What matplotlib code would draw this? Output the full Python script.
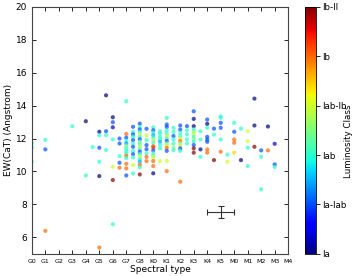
import numpy as np
import matplotlib
matplotlib.use("Agg")
import matplotlib.pyplot as plt
from matplotlib import cm, colors

# spectral type labels along x (index = position)
spec_types = ["G0", "G1", "G2", "G3", "G4", "G5", "G6", "G7", "G8",
              "K0", "K1", "K2", "K3", "K4", "K5",
              "M0", "M1", "M2", "M3", "M4"]
lum_labels = ["Ia", "Ia-Iab", "Iab", "Iab-Ib", "Ib", "Ib-II"]

# stars: spectral position, EW(CaT), luminosity class code
sp = [0, 0, 0,
      1, 1, 1,
      3, 4, 4, 4.5,
      5, 5, 5, 5, 5, 5,
      5.5, 5.5, 5.5, 5.5,
      6, 6, 6, 6, 6, 6, 6,
      6.5, 6.5, 6.5, 6.5, 6.5,
      7, 7, 7, 7, 7, 7, 7, 7, 7, 7, 7, 7, 7, 7,
      7.5, 7.5, 7.5, 7.5, 7.5, 7.5, 7.5, 7.5, 7.5, 7.5, 7.5, 7.5,
      8, 8, 8, 8, 8, 8, 8, 8, 8, 8, 8, 8, 8, 8, 8, 8, 8, 8, 8,
      8.5, 8.5, 8.5, 8.5, 8.5, 8.5, 8.5, 8.5,
      9, 9, 9, 9, 9, 9, 9, 9, 9, 9, 9, 9, 9, 9, 9, 9,
      9.5, 9.5, 9.5, 9.5, 9.5, 9.5, 9.5, 9.5,
      10, 10, 10, 10, 10, 10, 10, 10, 10, 10, 10, 10, 10, 10,
      10.5, 10.5, 10.5, 10.5, 10.5, 10.5, 10.5,
      11, 11, 11, 11, 11, 11, 11, 11, 11, 11, 11,
      11.5, 11.5, 11.5, 11.5, 11.5,
      12, 12, 12, 12, 12, 12, 12, 12, 12, 12, 12, 12,
      12.5, 12.5, 12.5, 12.5,
      13, 13, 13, 13, 13, 13, 13, 13,
      13.5, 13.5, 13.5,
      14, 14, 14, 14, 14, 14,
      14.5, 14.5,
      15, 15, 15, 15, 15,
      15.5, 15.5,
      16, 16, 16, 16,
      16.5, 16.5, 16.5,
      17, 17, 17,
      17.5, 17.5,
      18, 18, 18]
ew = [11.72, 11.46, 10.6,
      11.92, 11.34, 6.4,
      12.75, 13.05, 9.76, 11.48,
      12.41, 12.2, 11.44, 10.59, 9.72, 5.39,
      14.62, 12.44, 12.2, 11.3,
      13.29, 12.99, 12.68, 11.94, 10.29, 9.48, 6.8,
      12.0, 11.7, 10.93, 10.53, 10.23,
      14.26, 12.28, 12.05, 11.85, 11.7, 11.55, 11.4, 11.25, 11.1, 10.95, 10.8, 10.47, 10.19, 9.76,
      12.71, 12.4, 12.25, 12.1, 11.9, 11.7, 11.5, 11.25, 11.05, 10.85, 10.39, 9.88,
      12.9, 12.7, 12.55, 12.4, 12.25, 12.1, 11.95, 11.8, 11.65, 11.5, 11.35, 11.2, 11.05, 10.9, 10.75, 10.6, 10.4, 10.25, 9.82,
      12.59, 12.2, 11.9, 11.6, 11.35, 11.1, 10.89, 10.63,
      12.68, 12.5, 12.35, 12.2, 12.05, 11.9, 11.75, 11.54, 11.45, 11.28, 11.1, 10.95, 10.8, 10.63, 10.33, 9.89,
      12.44, 12.3, 12.1, 11.95, 11.8, 11.6, 11.4, 10.63,
      13.25, 12.85, 12.7, 12.5, 12.3, 12.15, 12.0, 11.85, 11.7, 11.55, 11.43, 11.25, 10.65, 10.02,
      12.65, 12.4, 12.15, 11.95, 11.7, 11.45, 11.3,
      12.79, 12.54, 12.35, 12.15, 12.0, 11.85, 11.7, 11.55, 11.4, 11.25, 9.38,
      12.75, 12.5, 12.25, 11.95, 11.7,
      13.65, 13.19, 12.75, 12.55, 12.4, 12.25, 12.1, 11.95, 11.8, 11.6, 11.4, 11.14,
      12.44, 11.94, 11.34, 10.89,
      13.15, 12.89, 12.65, 12.1, 11.94, 11.8, 11.34, 11.14,
      12.6, 12.24, 10.69,
      13.35, 13.25, 12.95, 12.65, 11.94, 11.2,
      11.03, 10.59,
      12.95, 12.41, 11.94, 11.74, 11.14,
      12.6, 10.69,
      12.44, 11.84, 11.44, 10.33,
      14.42, 12.79, 11.5,
      11.28, 10.89, 8.92,
      12.73, 11.28,
      11.68, 10.43, 10.27]
lum = [2, 2, 2,
       2, 1, 4,
       2, 0, 2, 2,
       0, 2, 1, 2, 0, 4,
       0, 1, 2, 2,
       0, 1, 0.3, 2, 3, 5, 2,
       1, 1, 2, 1, 4,
       2, 4, 1, 2, 1.4, 2.6, 2, 2, 2, 4, 2, 4, 4, 1,
       1, 2, 1, 2, 1, 2, 1, 2, 1, 2, 3, 2,
       1, 2, 1, 2, 3, 2, 1, 2.5, 2, 3, 2, 1, 2, 3, 2, 1.5, 4, 2, 5,
       1, 3, 2, 1, 1, 2, 4, 4,
       2, 1, 2, 1.5, 2, 3, 2, 4, 4.3, 1, 2, 2.5, 3, 4, 4, 0,
       2, 2, 2, 2, 1.5, 2, 2, 3,
       2, 1, 1, 2, 2, 3, 2, 1, 2.5, 3, 4, 1, 3, 4,
       2, 2, 1, 2, 2, 2.5, 2,
       1, 1, 2, 2, 3, 4, 2.5, 3, 1, 2, 4,
       1, 2, 2, 2, 2,
       1, 0, 0, 2, 2.5, 3, 2, 2.5, 2, 1, 5, 5,
       2, 2, 0, 2,
       1, 0, 2, 1, 1, 1, 4, 4,
       1, 2, 5,
       2, 2, 1, 1, 2, 4,
       2, 3,
       2, 1, 4, 4, 3.4,
       2, 0,
       3, 3, 2, 2,
       0, 0, 5,
       1, 2, 2,
       0, 4,
       0.5, 1, 2]

# typical error bar
err_x, err_y = 14, 7.53
err_dx, err_dy = 1.0, 0.37

fig = plt.figure(figsize=(3.54, 2.76), dpi=100)
ax = fig.add_axes([0.090, 0.080, 0.724, 0.896])
cax = fig.add_axes([0.862, 0.080, 0.031, 0.896])

norm = colors.Normalize(vmin=0, vmax=5)
ax.scatter(sp, ew, c=lum, cmap="jet", norm=norm, s=9, alpha=0.7,
           linewidths=0, zorder=2)
ax.errorbar(err_x, err_y, xerr=err_dx, yerr=err_dy, fmt="none",
            ecolor="#333333", elinewidth=0.8, capsize=2.5, capthick=0.8)

ax.set_xlim(0, 19)
ax.set_ylim(5, 20)
ax.set_xticks(range(len(spec_types)))
ax.set_xticklabels(spec_types, fontsize=4.5)
ax.set_yticks([6, 8, 10, 12, 14, 16, 18, 20])
ax.tick_params(axis="y", labelsize=6.5)
ax.tick_params(direction="in", top=True, right=True, length=3, width=0.6)
ax.set_xlabel("Spectral type", fontsize=6.5, labelpad=1)
ax.set_ylabel("EW(CaT) (Angstrom)", fontsize=6.5, labelpad=2)
for s in ax.spines.values():
    s.set_linewidth(0.8)
    s.set_color("#444444")

sm = cm.ScalarMappable(norm=norm, cmap="jet")
cb = fig.colorbar(sm, cax=cax)
cb.set_ticks(range(6))
cb.set_ticklabels(lum_labels)
cb.ax.tick_params(labelsize=6.3, length=3, width=0.6, pad=1.5)
cb.outline.set_linewidth(0.6)
# colorbar title placed by hand so it stays inside the figure
fig.text(0.997, 0.49, "Luminosity Class", rotation=90, fontsize=6.3,
         ha="right", va="center")

fig.savefig("out.png", dpi=100)
